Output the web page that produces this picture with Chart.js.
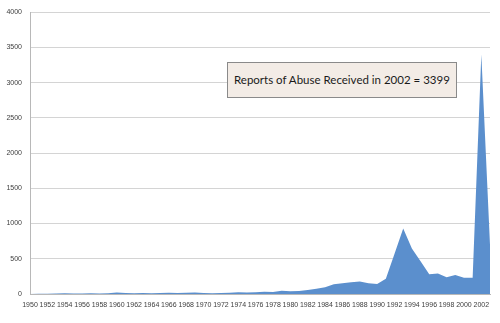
<!DOCTYPE html>
<html>
<head>
<meta charset="utf-8">
<script src="https://cdn.jsdelivr.net/npm/chart.js@4"></script>
<style>
    body { margin: 0; background: #fff; }
    #wrap { position: relative; width: 500px; height: 323px; }
    #note {
        position: absolute;
        left: 227px;
        top: 62px;
        width: 230px;
        height: 36px;
        box-sizing: border-box;
        background: #f3ece6;
        border: 1px solid #8a8a8a;
        font-family: Lato, "Liberation Sans", sans-serif;
        font-size: 11.5px;
        line-height: 34px;
        padding-left: 6px;
        color: #1a1a1a;
        white-space: nowrap;
    }
</style>
</head>
<body>
<div id="wrap">
    <canvas id="chart" width="500" height="323"></canvas>
    <div id="note">Reports of Abuse Received in 2002 = 3399</div>
</div>
<script>
// ====== DATA ======
const years = [
    '1950', '1951', '1952', '1953', '1954', '1955', '1956', '1957', '1958', '1959',
    '1960', '1961', '1962', '1963', '1964', '1965', '1966', '1967', '1968', '1969',
    '1970', '1971', '1972', '1973', '1974', '1975', '1976', '1977', '1978', '1979',
    '1980', '1981', '1982', '1983', '1984', '1985', '1986', '1987', '1988', '1989',
    '1990', '1991', '1992', '1993', '1994', '1995', '1996', '1997', '1998', '1999',
    '2000', '2001', '2002', '2003'
];
const reports = [
    0, 2, 3, 8, 10, 6, 8, 10, 6, 10,
    22, 15, 12, 14, 12, 15, 18, 15, 18, 20,
    14, 12, 14, 18, 24, 20, 24, 33, 28, 45,
    40, 42, 57, 75, 95, 137, 151, 168, 176, 151,
    141, 215, 570, 930, 645, 466, 282, 292, 236, 268,
    231, 231, 3399, 700
];
const yMin = 0;
const yMax = 4000;
const yStep = 500;

// ====== CHART ======
const tickFont = { family: '"Liberation Sans", Arial, sans-serif', size: 7 };

new Chart(document.getElementById('chart'), {
    type: 'line',
    data: {
        labels: years,
        datasets: [{
            label: 'Reports',
            data: reports,
            fill: 'origin',
            backgroundColor: '#5b8fcd',
            borderWidth: 0,
            pointRadius: 0,
            tension: 0
        }]
    },
    options: {
        responsive: false,
        animation: false,
        layout: { padding: { top: 11, right: 10, left: 0, bottom: 0 } },
        plugins: {
            legend: { display: false },
            tooltip: { enabled: false }
        },
        scales: {
            x: {
                offset: false,
                grid: { display: false, drawTicks: false },
                border: { display: true, color: '#b8b8b8' },
                ticks: {
                    autoSkip: false,
                    maxRotation: 0,
                    padding: 7,
                    color: '#404040',
                    font: tickFont,
                    callback: (value, index) => index % 2 === 0 ? years[index] : ''
                },
                afterFit: scale => { scale.height = 29; }
            },
            y: {
                min: yMin,
                max: yMax,
                ticks: {
                    stepSize: yStep,
                    padding: 8,
                    color: '#404040',
                    font: tickFont,
                    callback: value => String(value)
                },
                grid: { color: '#d4d4d4', drawTicks: false },
                border: { display: true, color: '#b8b8b8' },
                afterFit: scale => { scale.width = 30; }
            }
        }
    }
});
</script>
</body>
</html>
